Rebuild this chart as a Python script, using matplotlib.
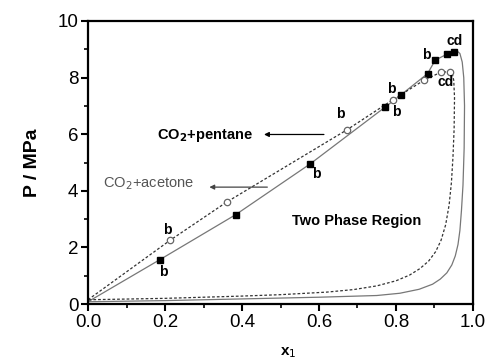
import numpy as np
import matplotlib.pyplot as plt
from matplotlib.ticker import MultipleLocator

plt.rcParams['font.family'] = ['Liberation Sans', 'DejaVu Sans']

# solid squares (experimental points, solid curve)
sq_x = [0.187, 0.384, 0.577, 0.771, 0.812, 0.882, 0.902, 0.933, 0.951]
sq_y = [1.57, 3.16, 4.95, 6.95, 7.38, 8.14, 8.62, 8.83, 8.92]

# open circles (experimental points, dashed curve)
ci_x = [0.213, 0.360, 0.672, 0.791, 0.873, 0.918, 0.940]
ci_y = [2.25, 3.60, 6.15, 7.21, 7.91, 8.20, 8.20]

# solid curve (upper branch then lower branch back to 0)
sol_x = [0.0, 0.187, 0.384, 0.577, 0.771, 0.812, 0.882, 0.902, 0.933, 0.951,
         0.958, 0.966, 0.972, 0.976, 0.978, 0.977, 0.974, 0.970, 0.966,
         0.961, 0.954, 0.945, 0.932, 0.915, 0.895, 0.86, 0.81, 0.75, 0.6,
         0.4, 0.2, 0.0]
sol_y = [0.08, 1.57, 3.16, 4.95, 6.95, 7.38, 8.14, 8.62, 8.83, 8.92,
         8.95, 8.85, 8.55, 8.0, 7.0, 5.5, 4.2, 3.3, 2.6,
         2.1, 1.7, 1.38, 1.1, 0.88, 0.70, 0.52, 0.38, 0.30, 0.24,
         0.18, 0.12, 0.08]

# dashed curve
das_x = [0.0, 0.213, 0.360, 0.672, 0.791, 0.873, 0.918, 0.940, 0.946,
         0.950, 0.952, 0.951, 0.948, 0.944, 0.938, 0.929, 0.917, 0.903,
         0.885, 0.862, 0.835, 0.80, 0.75, 0.69, 0.62, 0.5, 0.4, 0.2, 0.0]
das_y = [0.15, 2.25, 3.60, 6.15, 7.21, 7.91, 8.20, 8.20, 8.15,
         7.9, 7.3, 6.2, 5.2, 4.3, 3.5, 2.8, 2.25, 1.85,
         1.52, 1.25, 1.02, 0.82, 0.64, 0.51, 0.42, 0.33, 0.28, 0.20, 0.15]

# point labels
lab_txt = ['b', 'b', 'b', 'b', 'b', 'b', 'b', 'cd', 'cd']
lab_x = [0.196, 0.206, 0.592, 0.655, 0.789, 0.802, 0.879, 0.951, 0.930]
lab_y = [1.14, 2.60, 4.60, 6.71, 7.60, 6.77, 8.80, 9.30, 7.85]

fig = plt.figure(figsize=(4.9, 3.62), dpi=100)
ax = fig.add_axes([0.1796, 0.1602, 0.7857, 0.7818])

ax.plot(sol_x, sol_y, '-', color='#777777', lw=0.9)
ax.plot(das_x, das_y, color='#333333', lw=0.9, ls=(0, (2.2, 1.6)))
ax.plot(sq_x, sq_y, 's', color='black', ms=4.3, ls='none')
ax.plot(ci_x, ci_y, 'o', mfc='white', mec='#666666', mew=0.9, ms=4.6, ls='none')

for t, x, y in zip(lab_txt, lab_x, lab_y):
    ax.text(x, y, t, ha='center', va='center', fontsize=10, fontweight='bold')

ax.text(0.305, 5.95, 'CO$_\\mathbf{2}$+pentane', ha='center', va='center',
        fontsize=10.5, fontweight='bold')
ax.annotate('', xy=(0.45, 5.99), xytext=(0.62, 5.99),
            arrowprops=dict(arrowstyle='-|>', color='black', lw=0.9,
                            mutation_scale=7))
ax.text(0.158, 4.27, 'CO$_2$+acetone', ha='center', va='center',
        fontsize=10.5, color='#555555')
ax.annotate('', xy=(0.308, 4.13), xytext=(0.473, 4.13),
            arrowprops=dict(arrowstyle='-|>', color='#444444', lw=0.9,
                            mutation_scale=7))
ax.text(0.698, 2.95, 'Two Phase Region', ha='center', va='center',
        fontsize=10.5, fontweight='bold')

ax.set_xlim(0, 1.0)
ax.set_ylim(0, 10)
ax.set_xticks([0, 0.2, 0.4, 0.6, 0.8, 1.0])
ax.set_xticklabels(['0.0', '0.2', '0.4', '0.6', '0.8', '1.0'])
ax.xaxis.set_minor_locator(MultipleLocator(0.1))
ax.yaxis.set_major_locator(MultipleLocator(2))
ax.yaxis.set_minor_locator(MultipleLocator(1))
ax.tick_params(which='major', direction='out', length=5, width=1.5,
               labelsize=13.5, pad=2)
ax.tick_params(which='minor', direction='out', length=3, width=1.2)
for s in ax.spines.values():
    s.set_linewidth(1.6)

ax.set_ylabel('P / MPa', fontsize=14, fontweight='bold', labelpad=12)
ax.set_xlabel('x$_1$', fontsize=11, fontweight='bold')
ax.xaxis.set_label_coords(0.52, -0.145)

fig.savefig('out.png', dpi=100)
